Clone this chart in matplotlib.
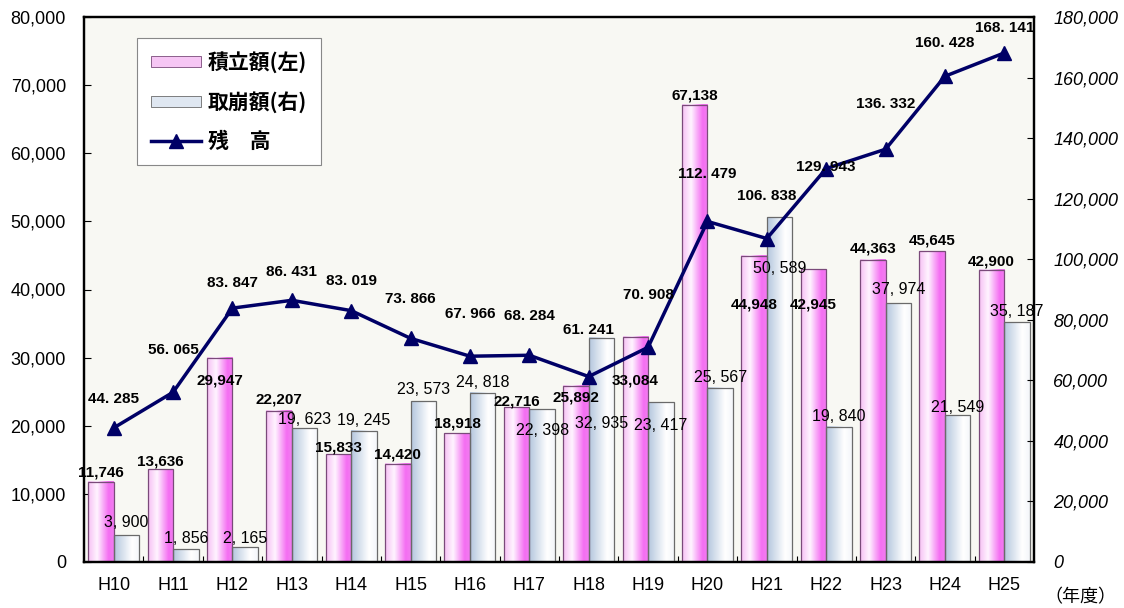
import numpy as np
import matplotlib
matplotlib.use('Agg')
import matplotlib.pyplot as plt
from matplotlib.colors import LinearSegmentedColormap
from matplotlib.patches import Patch
from matplotlib.lines import Line2D

# data
years = ['H10', 'H11', 'H12', 'H13', 'H14', 'H15', 'H16', 'H17',
         'H18', 'H19', 'H20', 'H21', 'H22', 'H23', 'H24', 'H25']
tsumitate = [11746, 13636, 29947, 22207, 15833, 14420, 18918, 22716,
             25892, 33084, 67138, 44948, 42945, 44363, 45645, 42900]
torikuzushi = [3900, 1856, 2165, 19623, 19245, 23573, 24818, 22398,
               32935, 23417, 25567, 50589, 19840, 37974, 21549, 35187]
zandaka = [44285, 56065, 83847, 86431, 83019, 73866, 67966, 68284,
           61241, 70908, 112479, 106838, 129943, 136332, 160428, 168141]

# where the value labels sit (data units, as placed in the original)
tsumitate_lbl_y = [13210, 14680, 26570, 23780, 16880, 15850, 20400, 23630,
                   24220, 26570, 68550, 37730, 37730, 46090, 47120, 44040]
torikuzushi_lbl_y = [5730, 3380, 3380, 20990, 20700, 25250, 26280, 19230,
                     20400, 20110, 27010, 43010, 21430, 39930, 22750, 36700]
zandaka_lbl_y = [53700, 69950, 92160, 95800, 92800, 86850, 81880, 81220,
                 76580, 88180, 128290, 121000, 130610, 151160, 171390, 176360]

JP = ['Noto Sans CJK JP', 'DejaVu Sans']
NUM = ['Liberation Sans', 'DejaVu Sans']

pink_cmap = LinearSegmentedColormap.from_list(
    'pink', [(0.0, '#f6bff4'), (0.35, '#fff4ff'), (0.8, '#f46ef2'), (1.0, '#f27df0')])
blue_cmap = LinearSegmentedColormap.from_list(
    'blue', [(0.0, '#b3c6dd'), (0.7, '#ffffff'), (1.0, '#f4f6fa')])

fig = plt.figure(figsize=(11.24, 6.08), dpi=100)
ax = fig.add_axes([84 / 1124, 1 - 562 / 608, 950 / 1124, 545 / 608])
ax.set_facecolor('#f8f8f3')
ax2 = ax.twinx()

x = np.arange(len(years))
w = 0.43
pink_bars = ax.bar(x - w / 2, tsumitate, width=w, fill=False,
                   edgecolor='#7a4a7a', linewidth=0.9, zorder=3)
blue_bars = ax.bar(x + w / 2, torikuzushi, width=w, fill=False,
                   edgecolor='#6a6a6a', linewidth=0.9, zorder=3)

# gradient fills, one image per bar
grad = np.linspace(0, 1, 128).reshape(1, -1)
for bars, cmap in ((pink_bars, pink_cmap), (blue_bars, blue_cmap)):
    for r in bars:
        x0, h = r.get_x(), r.get_height()
        ax.imshow(grad, cmap=cmap, aspect='auto', interpolation='bilinear',
                  extent=[x0, x0 + r.get_width(), 0, h], zorder=2)

ax.set_xlim(-0.5, len(years) - 0.5)
ax.set_ylim(0, 80000)
ax.set_aspect('auto')

# value labels
for i in range(len(years)):
    ax.text(x[i] - w / 2, tsumitate_lbl_y[i], f'{tsumitate[i]:,}',
            ha='center', va='center', fontsize=11, fontweight='bold',
            family=NUM, zorder=5)
    ax.text(x[i] + w / 2, torikuzushi_lbl_y[i], f'{torikuzushi[i]:,}'.replace(',', ', '),
            ha='center', va='center', fontsize=11.5, family=NUM, zorder=5)

# balance line on the right axis
ax2.plot(x, zandaka, color='#000066', linewidth=2.5, marker='^',
         markersize=10, zorder=4)
for i in range(len(years)):
    ax2.text(x[i], zandaka_lbl_y[i], f'{zandaka[i]:,}'.replace(',', '. '),
             ha='center', va='center', fontsize=11, fontweight='bold',
             family=NUM, zorder=6)
ax2.set_ylim(0, 180000)

# axes styling
ax.set_yticks(range(0, 80001, 10000))
ax.set_yticklabels([f'{v:,}' for v in range(0, 80001, 10000)], family=NUM, fontsize=13)
ax2.set_yticks(range(0, 180001, 20000))
ax2.set_yticklabels([f'{v:,}' for v in range(0, 180001, 20000)], family=NUM,
                    fontsize=13, fontstyle='italic')
ax.set_xticks(x)
ax.set_xticklabels(years, family=NUM, fontsize=13)
ax.set_xticks(np.arange(0.5, len(years) - 1, 1.0), minor=True)
ax.tick_params(axis='x', which='major', length=0, pad=11)
ax.tick_params(axis='x', which='minor', direction='in', length=4, width=0.8)
ax.tick_params(axis='y', direction='in', length=5, width=0.8, pad=13)
ax2.tick_params(axis='y', direction='in', length=5, width=0.8, pad=14)
for a in (ax, ax2):
    for s in a.spines.values():
        s.set_linewidth(1.6)
        s.set_color('black')

# legend
handles = [Patch(facecolor='#f6c6f4', edgecolor='#7a4a7a', linewidth=0.6),
           Patch(facecolor='#dfe7f1', edgecolor='#6a6a6a', linewidth=0.6),
           Line2D([], [], color='#000066', linewidth=2.5, marker='^', markersize=10)]
leg = ax2.legend(handles, ['積立額(左)', '取崩額(右)', '残　高'],
                 loc='upper left', bbox_to_anchor=(137 / 1124, 1 - 38 / 608),
                 bbox_transform=fig.transFigure, borderaxespad=0,
                 prop={'family': JP, 'weight': 'bold', 'size': 15},
                 handlelength=2.4, handleheight=0.42, labelspacing=0.85,
                 handletextpad=0.35, borderpad=0.65, fancybox=False, framealpha=1,
                 facecolor='white', edgecolor='#888888')
leg.get_frame().set_linewidth(0.8)
leg.get_texts()[2].set_fontstyle('italic')

fig.text(1080 / 1124, 1 - 597 / 608, '（年度）', ha='center', va='center',
         fontsize=13, family=JP)

fig.savefig('out.png', dpi=100)
